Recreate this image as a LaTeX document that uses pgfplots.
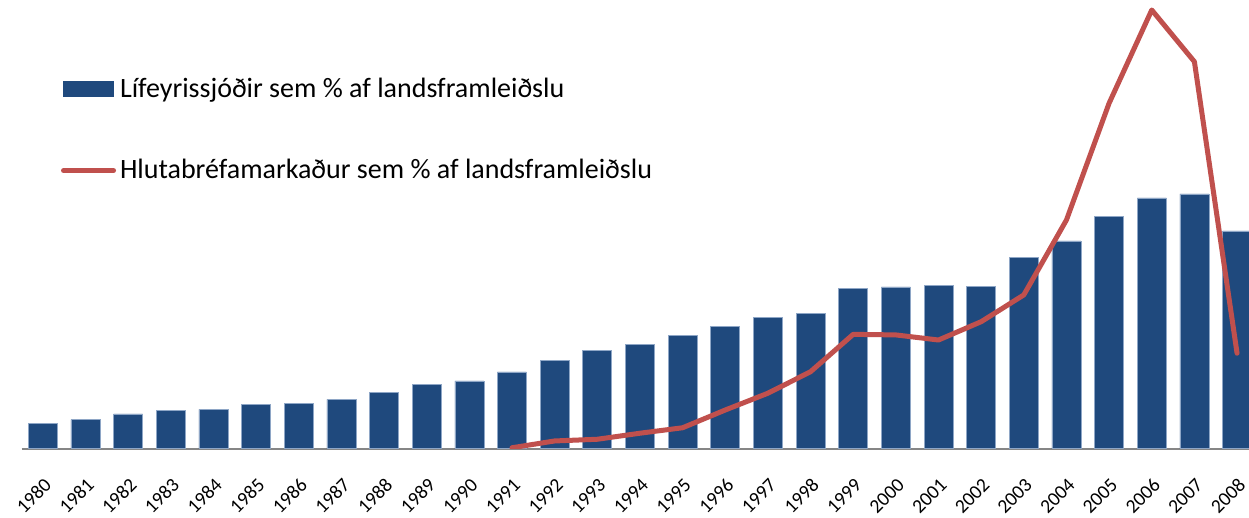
\documentclass[border=0pt]{standalone}
\usepackage{pgfplots}
\pgfplotsset{compat=1.18}
\usepackage{fontspec}
\setmainfont{Carlito}
\definecolor{barblue}{HTML}{1F497D}
\definecolor{baredge}{HTML}{8EA6C6}
\definecolor{linered}{HTML}{C0504D}
\begin{document}
\begin{tikzpicture}
\begin{axis}[
  at={(0,0)}, anchor=south west,
  scale only axis,
  width=613.75pt, height=224.35pt,
  xmin=1979.5, xmax=2008.28,
  ymin=0, ymax=237.8,
  ybar, bar width=14.5pt,
  axis x line=bottom, axis y line=none,
  x axis line style={draw={rgb,255:red,134;green,134;blue,134}, line width=1pt, -},
  xtick=data,
  major tick length=0pt,
  x tick label style={font=\fontsize{9.8}{11}\selectfont, xshift=5pt, yshift=-14pt, rotate=45, anchor=east},
  xticklabel={\pgfmathprintnumber[1000 sep={}]{\tick}},
  /pgf/number format/assume math mode=true,
  legend style={draw=none, fill=none, at={(0.027,0.845)}, anchor=north west,
    font=\fontsize{14}{16}\selectfont, row sep=25.5pt, cells={anchor=west},
    /tikz/every even column/.append style={column sep=0pt}},
  legend cell align=left,
]
\addplot[fill=barblue, draw=baredge, line width=0.3pt,
  legend image code/.code={\fill[barblue] (0pt,-3.75pt) rectangle (25pt,3.75pt);}]
  coordinates {
  (1980,13.5) (1981,15.4) (1982,18.4) (1983,20.4) (1984,20.9) (1985,23.5)
  (1986,23.9) (1987,26.2) (1988,29.7) (1989,34.1) (1990,35.9) (1991,40.7)
  (1992,46.9) (1993,52.2) (1994,55.1) (1995,59.9) (1996,65.0) (1997,69.4)
  (1998,71.8) (1999,84.8) (2000,85.7) (2001,86.6) (2002,86.1) (2003,101.4)
  (2004,110.1) (2005,123.0) (2006,132.9) (2007,135.0) (2008,115.4)
  };
\addlegendentry{Lífeyrissjóðir sem \% af landsframleiðslu}
\addplot[sharp plot, color=linered, line width=2.5pt, line join=round, line cap=round,
  legend image code/.code={\draw[linered, line width=2.5pt, line cap=round] (0pt,0pt) -- (25pt,0pt);}]
  coordinates {
  (1991,0.5) (1992,4.1) (1993,5.0) (1994,8.2) (1995,11.1) (1996,20.5)
  (1997,29.4) (1998,40.8) (1999,60.6) (2000,60.3) (2001,57.6) (2002,67.3)
  (2003,81.5) (2004,121.2) (2005,183.1) (2006,232.5) (2007,205.1) (2008,50.6)
  };
\addlegendentry{Hlutabréfamarkaður sem \% af landsframleiðslu}
\end{axis}
\pgfresetboundingbox
\useasboundingbox (-10.75pt,-34.65pt) rectangle (613.75pt,224.35pt);
\end{tikzpicture}
\end{document}
